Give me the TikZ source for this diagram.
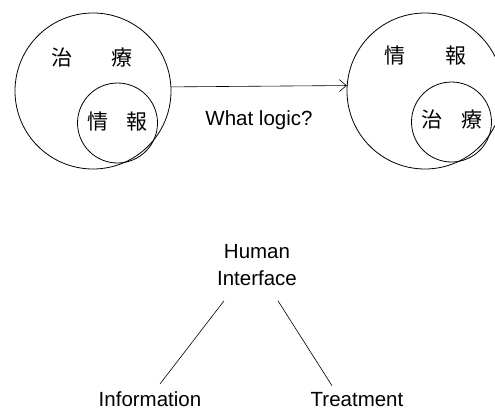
\documentclass[tikz,border=0pt]{standalone}
\usepackage{fontspec}
\setmainfont{Liberation Sans}
\newfontfamily\cjk{Noto Sans CJK JP}
\usetikzlibrary{arrows.meta}

\tikzset{
  ring/.style={circle, draw, line width=0.8pt, inner sep=0pt},
  kanji/.style={font=\cjk\fontsize{21}{24}\selectfont, inner sep=0pt},
  lbl/.style={font=\fontsize{20.5}{27}\selectfont, align=center},
}

\begin{document}
\begin{tikzpicture}[x=1pt, y=-1pt, line cap=round, line join=round]
\clip (0,0) rectangle (495,412);

% --- Left: treatment holds information ---
\node[ring, minimum size=156pt] (treatL) at (93,91) {};
\node[ring, minimum size=80pt] (infoL) at (117.5,123) {};
\node[kanji] (treatLtxt) at (92,58) {治\hspace{40pt}療};
\node[kanji] (infoLtxt) at (117.5,122) {情\hspace{19pt}報};

% --- Right: information holds treatment ---
\node[ring, minimum size=156pt] (infoR) at (425,91) {};
\node[ring, minimum size=80pt] (treatR) at (451.5,122) {};
\node[kanji] (infoRtxt) at (425.5,56) {情\hspace{41pt}報};
\node[kanji] (treatRtxt) at (452,120) {治\hspace{20pt}療};

% Arrow between the two views
\draw[-{Straight Barb[length=7pt,width=12pt]}, line width=0.6pt]
  (treatL.3.7) -- (infoR.176.3);
\node[lbl, anchor=base] (logic) at (259,125) {What logic?};

% --- Tree ---
\node[lbl, inner ysep=15pt] (hi) at (257,265) {Human\\Interface};
\node[lbl, anchor=base, inner sep=1pt] (info) at (150,406) {Information};
\node[lbl, anchor=base, inner sep=1pt] (treat) at (357,406) {Treatment};

\draw[line width=0.6pt] ([xshift=-33pt]hi.south) -- ([xshift=10pt,yshift=6pt]info.north);
\draw[line width=0.6pt] ([xshift=21pt]hi.south) -- ([xshift=-25pt,yshift=5pt]treat.north);

\end{tikzpicture}
\end{document}
